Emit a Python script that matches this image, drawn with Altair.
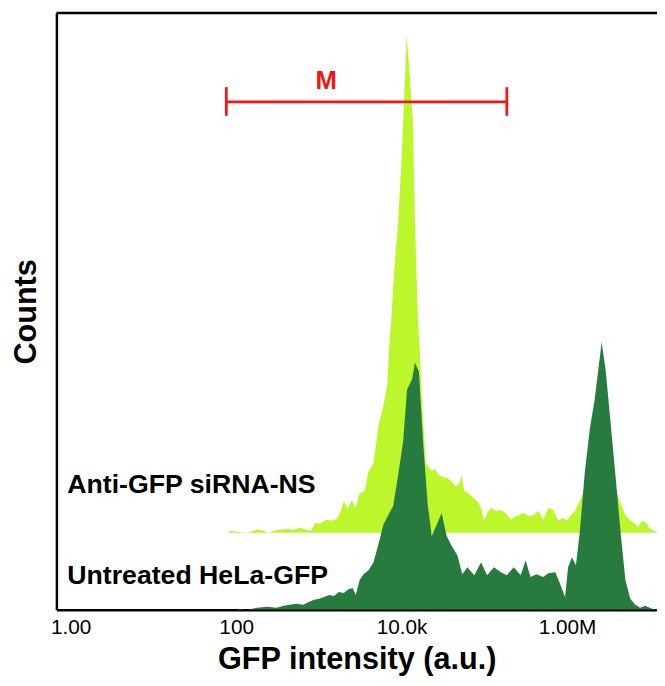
import altair as alt
import pandas as pd

# ---- data ----
# bin positions are log10(GFP intensity); counts are in arbitrary count units
light_log = [1.913, 2.012, 2.131, 2.251, 2.334, 2.394, 2.454, 2.525, 2.609, 2.692, 2.764, 2.848, 2.907,
             2.955, 3.015, 3.086, 3.158, 3.218, 3.265, 3.301, 3.349, 3.397, 3.445, 3.492, 3.552, 3.600,
             3.660, 3.719, 3.779, 3.827, 3.851, 3.875, 3.910, 3.958, 3.994, 4.018, 4.042, 4.062, 4.078,
             4.113, 4.137, 4.161, 4.197, 4.221, 4.245, 4.292, 4.316, 4.364, 4.400, 4.448, 4.507, 4.555,
             4.603, 4.651, 4.698, 4.722, 4.758, 4.806, 4.854, 4.913, 4.961, 4.997, 5.045, 5.081, 5.140,
             5.200, 5.260, 5.320, 5.367, 5.415, 5.475, 5.535, 5.594, 5.654, 5.714, 5.773, 5.833, 5.893,
             5.952, 6.000, 6.036, 6.096, 6.143, 6.191, 6.251, 6.311, 6.358, 6.394, 6.442, 6.490, 6.537,
             6.585, 6.645, 6.705, 6.764, 6.824, 6.860, 6.908, 6.955, 7.003, 7.051, 7.099]
light_counts = [2, 1, 0, 3, 2, 0, 2, 3, 4, 3, 5, 3, 2,
                10, 9, 13, 12, 14, 22, 32, 24, 33, 25, 40, 42, 62,
                70, 108, 128, 150, 190, 215, 265, 315, 370, 415, 465, 504, 485,
                445, 415, 315, 215, 180, 135, 70, 68, 62, 65, 58, 56, 55,
                52, 47, 50, 58, 42, 40, 36, 32, 25, 12, 22, 25, 22,
                23, 20, 13, 16, 18, 20, 17, 18, 22, 13, 25, 23, 12,
                15, 12, 17, 22, 30, 40, 58, 92, 115, 122, 105, 80, 55,
                45, 30, 18, 12, 9, 6, 12, 10, 4, 2, 0]

dark_log = [2.012, 2.131, 2.251, 2.370, 2.490, 2.573, 2.645, 2.728, 2.812, 2.883, 2.943, 3.003, 3.063,
            3.122, 3.182, 3.242, 3.301, 3.361, 3.409, 3.445, 3.492, 3.540, 3.600, 3.660, 3.719, 3.779,
            3.839, 3.898, 3.958, 4.018, 4.066, 4.125, 4.161, 4.209, 4.257, 4.316, 4.364, 4.424, 4.484,
            4.543, 4.603, 4.675, 4.734, 4.794, 4.878, 4.961, 5.033, 5.116, 5.200, 5.272, 5.355, 5.439,
            5.499, 5.558, 5.630, 5.714, 5.773, 5.857, 5.916, 5.976, 6.012, 6.060, 6.107, 6.155, 6.215,
            6.275, 6.334, 6.382, 6.418, 6.466, 6.525, 6.585, 6.645, 6.705, 6.764, 6.824, 6.884, 6.943,
            7.027, 7.099]
dark_counts = [1, 0, 2, 3, 2, 4, 5, 6, 5, 8, 10, 11, 13,
               15, 14, 18, 17, 21, 22, 15, 30, 36, 40, 48, 66, 86,
               96, 105, 136, 170, 223, 233, 250, 241, 173, 106, 75, 86, 98,
               75, 65, 55, 36, 43, 35, 48, 35, 43, 38, 35, 43, 35,
               50, 33, 36, 33, 37, 38, 26, 13, 43, 53, 45, 80, 140,
               183, 213, 246, 271, 243, 190, 136, 80, 30, 11, 5, 2, 4,
               1, 0]

series_names = ["Anti-GFP siRNA-NS", "Untreated HeLa-GFP"]
series_offset = [78, 0]          # vertical offset of each histogram (counts)
x_tick_values = [1, 100, 1e4, 1e6]
x_domain_log = [-0.173, 7.087]
y_max = 604

gate_name = "M"
gate_lo = 76
gate_hi = 1.87e5
gate_level = 514
gate_cap = [500, 529]

# ---- build tables ----
rows = []
for name, off, lx, cy in [(series_names[0], series_offset[0], light_log, light_counts),
                          (series_names[1], series_offset[1], dark_log, dark_counts)]:
    for a, b in zip(lx, cy):
        rows.append({"series": name, "gfp": 10 ** a, "top": b + off, "base": off})
df = pd.DataFrame(rows)
gate_df = pd.DataFrame({"lo": [gate_lo], "hi": [gate_hi], "level": [gate_level],
                        "c0": [gate_cap[0]], "c1": [gate_cap[1]], "name": [gate_name]})

FONT = "Liberation Sans"
W, H = 608, y_max

xscale = alt.Scale(type="log", domain=[10 ** x_domain_log[0], 10 ** x_domain_log[1]], nice=False)
yscale = alt.Scale(domain=[0, y_max], nice=False, zero=True)

xaxis = alt.Axis(values=x_tick_values, format=".3s", ticks=False, grid=False,
                 labelFont=FONT, labelFontSize=21, labelColor="black", labelPadding=7,
                 domainColor="black", domainWidth=2.5,
                 title="GFP intensity (a.u.)", titleFont=FONT, titleFontSize=31,
                 titleFontWeight="bold", titleColor="black", titlePadding=8)
yaxis = alt.Axis(labels=False, ticks=False, grid=False, domainColor="black", domainWidth=2.5,
                 title="Counts", titleFont=FONT, titleFontSize=31, titleFontWeight="bold",
                 titleColor="black", titlePadding=14)

base = alt.Chart(df)
light = base.transform_filter(alt.datum.series == series_names[0]).mark_area(
    color="#bbf72b", clip=True, interpolate="linear").encode(
    x=alt.X("gfp:Q", scale=xscale, axis=xaxis),
    y=alt.Y("top:Q", scale=yscale, axis=yaxis),
    y2="base:Q")
dark = base.transform_filter(alt.datum.series == series_names[1]).mark_area(
    color="#287b3f", clip=True, interpolate="linear").encode(
    x=alt.X("gfp:Q", scale=xscale),
    y=alt.Y("top:Q", scale=yscale),
    y2="base:Q")

g = alt.Chart(gate_df)
gate_h = g.mark_rule(color="#f71414", strokeWidth=2.8).encode(
    x=alt.X("lo:Q", scale=xscale), x2="hi:Q", y=alt.Y("level:Q", scale=yscale))
gate_l = g.mark_rule(color="#f71414", strokeWidth=2.8).encode(
    x=alt.X("lo:Q", scale=xscale), y=alt.Y("c0:Q", scale=yscale), y2="c1:Q")
gate_r = g.mark_rule(color="#f71414", strokeWidth=2.8).encode(
    x=alt.X("hi:Q", scale=xscale), y=alt.Y("c0:Q", scale=yscale), y2="c1:Q")
gate_t = g.mark_text(color="#f71414", font=FONT, fontSize=26, fontWeight="bold",
                     align="center", baseline="middle").encode(
    x=alt.value(273), y=alt.value(69), text="name:N")

top_border = alt.Chart(gate_df).mark_rule(color="black", strokeWidth=2.5).encode(
    x=alt.value(0), x2=alt.value(W), y=alt.value(0))

lab_df = pd.DataFrame({"name": series_names})
lab1 = alt.Chart(lab_df).transform_filter(alt.datum.name == series_names[0]).mark_text(
    font=FONT, fontSize=27, fontWeight="bold", color="black", align="left",
    baseline="alphabetic").encode(x=alt.value(11), y=alt.value(486), text="name:N")
lab2 = alt.Chart(lab_df).transform_filter(alt.datum.name == series_names[1]).mark_text(
    font=FONT, fontSize=27, fontWeight="bold", color="black", align="left",
    baseline="alphabetic").encode(x=alt.value(11), y=alt.value(578), text="name:N")

chart = alt.layer(light, dark, gate_h, gate_l, gate_r, gate_t, top_border, lab1, lab2).properties(
    width=W, height=H,
    padding={"left": 49, "top": 1, "right": 0, "bottom": 66},
    autosize=alt.AutoSizeParams(type="none"),
).configure_view(stroke=None).configure(background="white")

chart.save("out.html", embed_options={"renderer": "svg", "actions": False})
